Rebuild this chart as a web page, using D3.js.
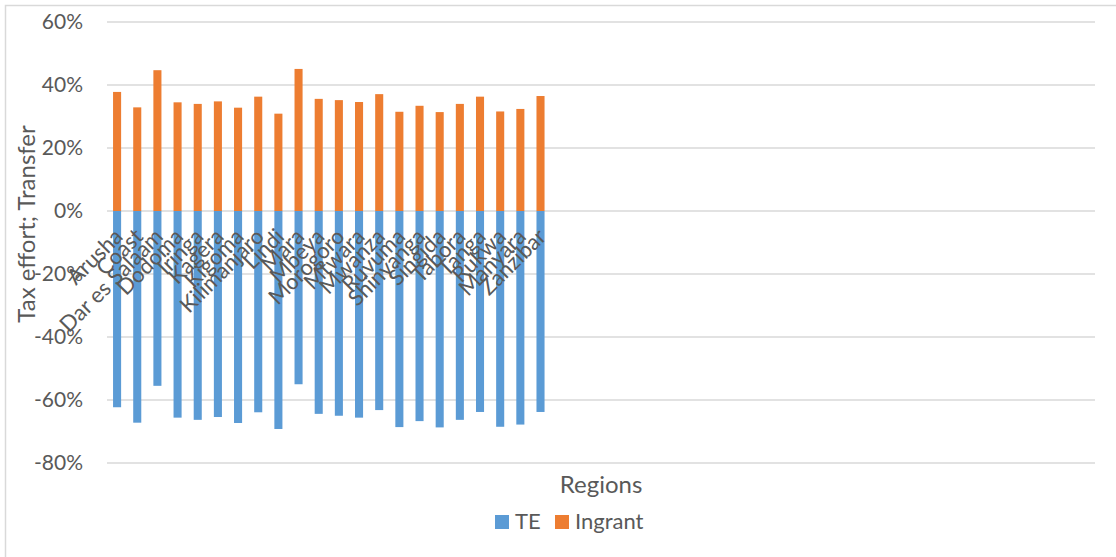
<!DOCTYPE html>
<html>
<head>
<meta charset="utf-8">
<script src="https://cdn.jsdelivr.net/npm/d3@7"></script>
<style>
  html, body { margin: 0; padding: 0; background: #fff; }
  svg { display: block; }
  text { font-family: Lato, "Open Sans", sans-serif; fill: #595959; }
</style>
</head>
<body>
<div id="chart"></div>
<script>
// Regions of Tanzania, in plotting order
const regions = [
  "Arusha", "Coast", "Dar es Salaam", "Dodoma", "Iringa", "Kagera", "Kigoma",
  "Kilimanjaro", "Lindi", "Mara", "Mbeya", "Morogoro", "Mtwara", "Mwanza",
  "Ruvuma", "Shinyanga", "Singida", "Tabora", "Tanga", "Rukwa", "Manyara", "Zanzibar"
];

// Tax effort (negative share)
const teValues = [
  -0.623, -0.672, -0.555, -0.656, -0.663, -0.654, -0.673, -0.639, -0.692, -0.550, -0.644,
  -0.650, -0.656, -0.632, -0.686, -0.667, -0.687, -0.663, -0.638, -0.685, -0.678, -0.638
];

// Intergovernmental transfer share
const ingrantValues = [
  0.378, 0.329, 0.447, 0.345, 0.340, 0.348, 0.328, 0.363, 0.309, 0.451, 0.356,
  0.352, 0.346, 0.371, 0.315, 0.334, 0.314, 0.340, 0.363, 0.316, 0.324, 0.365
];

const yTicks = [-0.8, -0.6, -0.4, -0.2, 0, 0.2, 0.4, 0.6];

const seriesNames = ["TE", "Ingrant"];
const seriesColors = ["#5B9BD5", "#ED7D31"];

// The category axis reserves room for more slots than there are regions
const slotCount = 49;

const W = 1116, H = 557;
const plot = { left: 107, right: 1095, top: 22, bottom: 463 };

const svg = d3.select("#chart").append("svg")
  .attr("width", W).attr("height", H);

// chart frame
svg.append("rect")
  .attr("x", 5.5).attr("y", 5.5)
  .attr("width", W + 10).attr("height", H + 10)
  .attr("fill", "none")
  .attr("stroke", "#d9d9d9")
  .attr("stroke-width", 1.5);

const x = d3.scaleBand()
  .domain(d3.range(slotCount))
  .range([plot.left, plot.right])
  .paddingInner(0.6)
  .paddingOuter(0.3);

const y = d3.scaleLinear()
  .domain([-0.8, 0.6])
  .range([plot.bottom, plot.top]);

// gridlines
svg.append("g")
  .selectAll("line")
  .data(yTicks)
  .join("line")
  .attr("x1", plot.left).attr("x2", plot.right)
  .attr("y1", d => y(d)).attr("y2", d => y(d))
  .attr("stroke", "#d9d9d9")
  .attr("stroke-width", 1.5);

// y axis labels (plain hyphen for negatives)
const pct = v => `${Math.round(v * 100)}%`;
const yAxis = d3.axisLeft(y)
  .tickValues(yTicks)
  .tickFormat(pct)
  .tickSize(0)
  .tickPadding(0);

const yg = svg.append("g")
  .attr("transform", `translate(${plot.left - 24},0)`)
  .call(yAxis);
yg.select(".domain").remove();
yg.selectAll("text")
  .attr("font-size", 21)
  .attr("fill", "#595959")
  .style("font-family", "Lato, 'Open Sans', sans-serif");

const rows = regions.map((r, i) => ({ i, region: r, te: teValues[i], ingrant: ingrantValues[i] }));

// TE bars (below zero)
svg.append("g")
  .selectAll("rect")
  .data(rows)
  .join("rect")
  .attr("x", d => x(d.i))
  .attr("width", x.bandwidth())
  .attr("y", y(0))
  .attr("height", d => y(d.te) - y(0))
  .attr("fill", seriesColors[0]);

// Ingrant bars (above zero)
svg.append("g")
  .selectAll("rect")
  .data(rows)
  .join("rect")
  .attr("x", d => x(d.i))
  .attr("width", x.bandwidth())
  .attr("y", d => y(d.ingrant))
  .attr("height", d => y(0) - y(d.ingrant))
  .attr("fill", seriesColors[1]);

// category labels, rotated, hanging from the zero line
svg.append("g")
  .selectAll("text")
  .data(rows)
  .join("text")
  .attr("text-anchor", "end")
  .attr("font-size", 22)
  .attr("transform", d => `translate(${x(d.i) + x.bandwidth() / 2 + 7},${y(0) + 27}) rotate(-45)`)
  .text(d => d.region);

// axis titles
svg.append("text")
  .attr("x", (plot.left + plot.right) / 2)
  .attr("y", 493)
  .attr("text-anchor", "middle")
  .attr("font-size", 24)
  .text("Regions");

svg.append("text")
  .attr("transform", "translate(35,224) rotate(-90)")
  .attr("text-anchor", "middle")
  .attr("font-size", 24)
  .text("Tax effort; Transfer");

// legend
const legend = svg.append("g");
const legendItems = [
  { name: seriesNames[0], color: seriesColors[0], x: 495 },
  { name: seriesNames[1], color: seriesColors[1], x: 555 }
];
const li = legend.selectAll("g")
  .data(legendItems)
  .join("g")
  .attr("transform", d => `translate(${d.x},515)`);
li.append("rect")
  .attr("width", 14).attr("height", 14)
  .attr("fill", d => d.color);
li.append("text")
  .attr("x", 20).attr("y", 14)
  .attr("font-size", 22)
  .text(d => d.name);
</script>
</body>
</html>
